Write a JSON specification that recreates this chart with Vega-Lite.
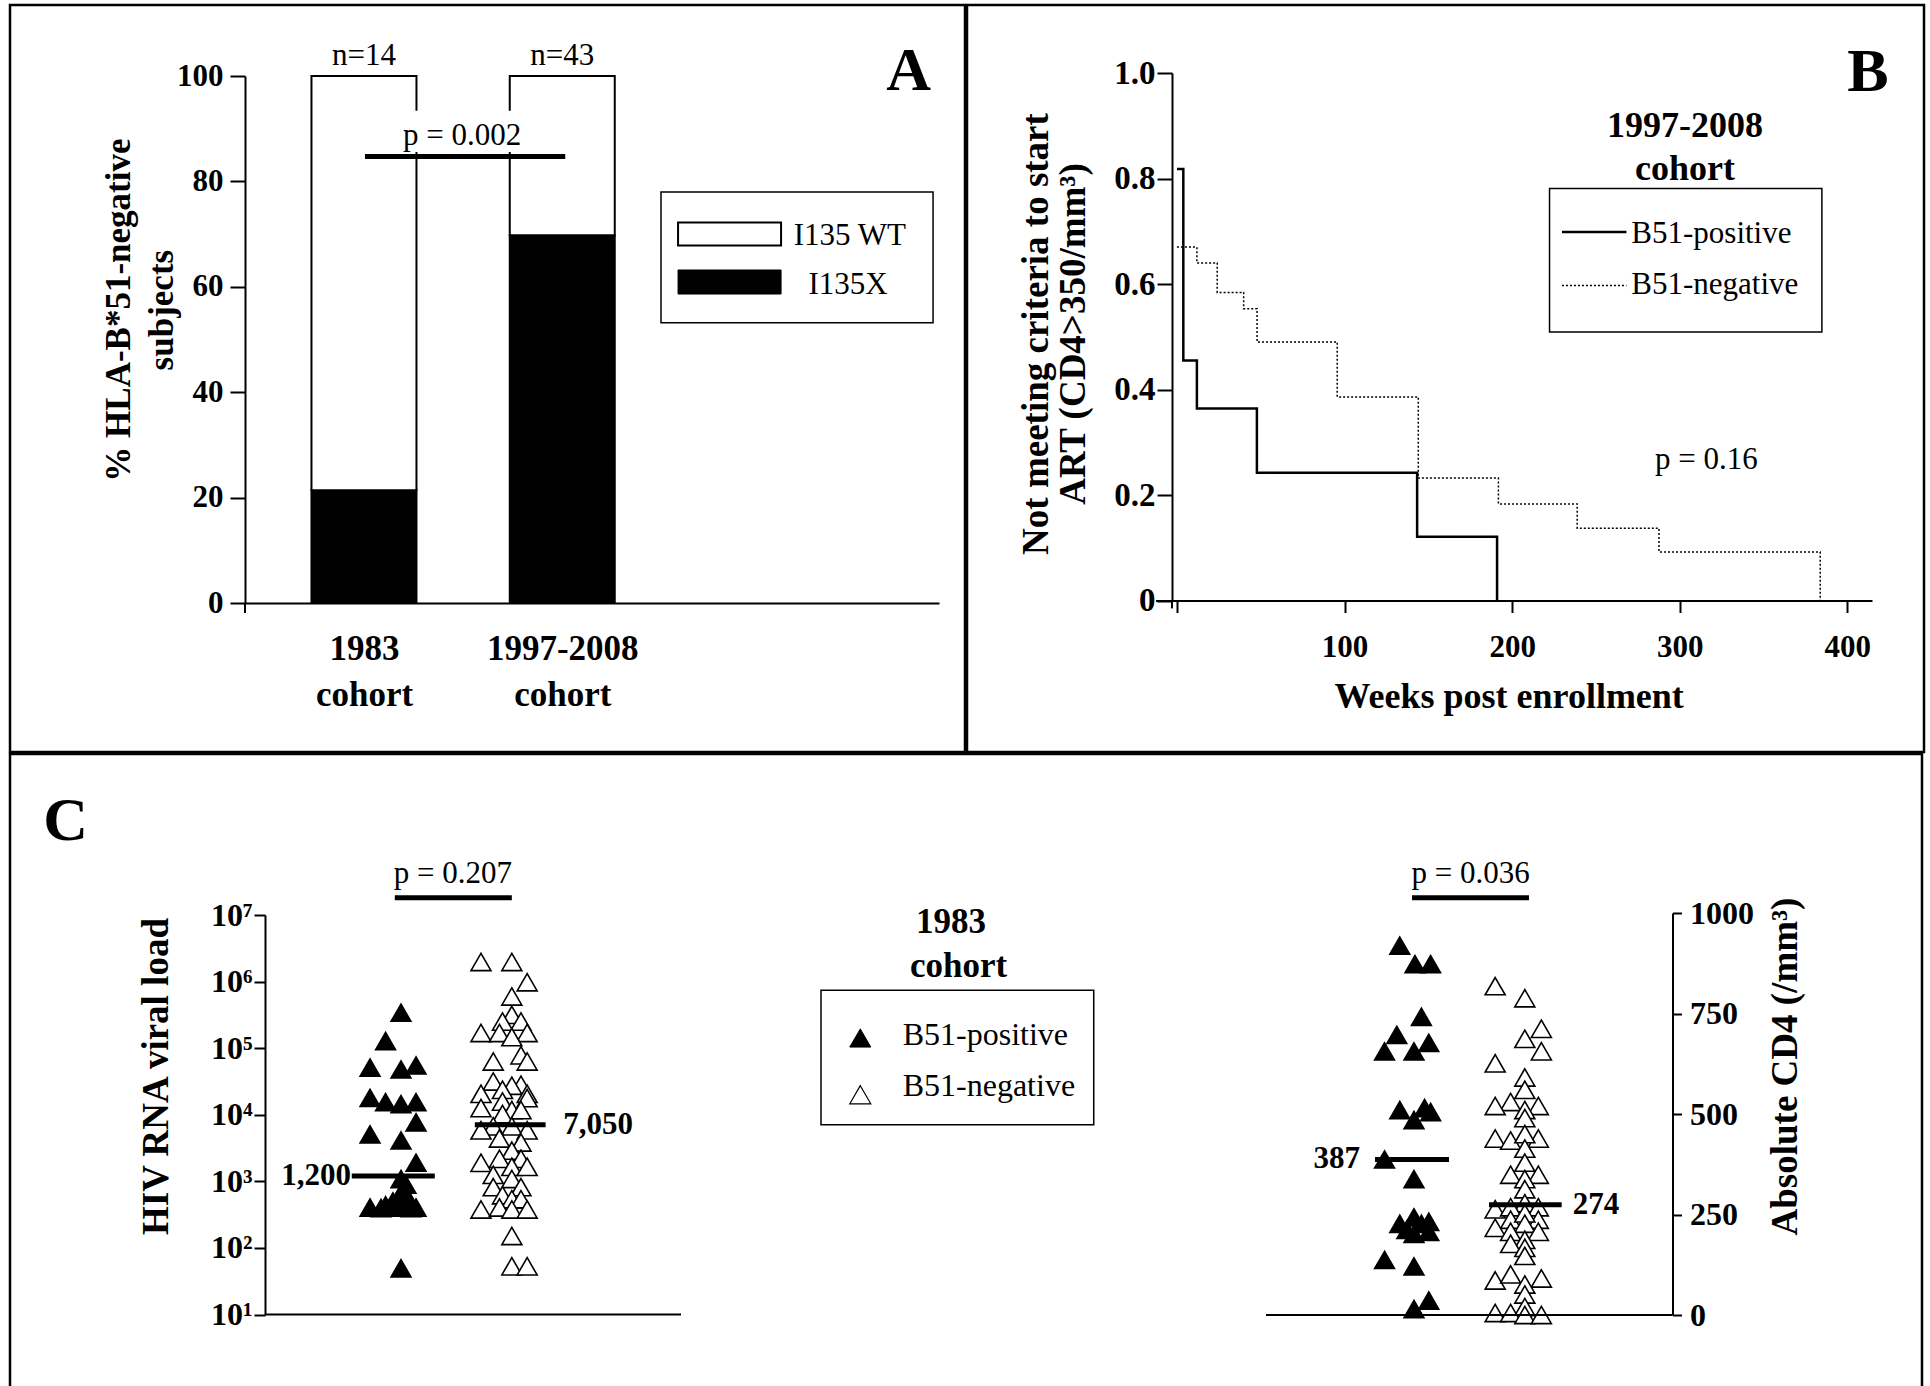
{
  "$schema": "https://vega.github.io/schema/vega-lite/v6.json",
  "background": "white",
  "padding": {"left": 8, "top": 3, "right": 0, "bottom": 0},
  "spacing": -2,
  "config": {
    "view": {"stroke": "black", "strokeWidth": 2.5},
    "font": "Liberation Serif",
    "mark": {"color": "black"},
    "axis": {"grid": false, "domainColor": "black", "tickColor": "black", "labelColor": "black", "titleColor": "black", "labelFont": "Liberation Serif", "titleFont": "Liberation Serif", "labelFontWeight": "bold", "titleFontWeight": "bold", "domainWidth": 2, "tickWidth": 2, "labelOverlap": false, "labelFlush": false},
    "text": {"font": "Liberation Serif", "color": "black"}
  },
  "datasets": {
    "mutation": [
      {"cohort": "1983", "pos": 1, "n": 14, "variant": "I135X", "pct": 21.4},
      {"cohort": "1983", "pos": 1, "n": 14, "variant": "I135 WT", "pct": 78.6},
      {"cohort": "1997-2008", "pos": 3, "n": 43, "variant": "I135X", "pct": 69.8},
      {"cohort": "1997-2008", "pos": 3, "n": 43, "variant": "I135 WT", "pct": 30.2}
    ],
    "km": [
      {"group": "B51-positive", "weeks": 0, "surv": 0.818},
      {"group": "B51-positive", "weeks": 3.8, "surv": 0.455},
      {"group": "B51-positive", "weeks": 11.9, "surv": 0.364},
      {"group": "B51-positive", "weeks": 47.7, "surv": 0.242},
      {"group": "B51-positive", "weeks": 143.3, "surv": 0.121},
      {"group": "B51-positive", "weeks": 191, "surv": 0},
      {"group": "B51-negative", "weeks": 0, "surv": 0.67},
      {"group": "B51-negative", "weeks": 11.9, "surv": 0.64},
      {"group": "B51-negative", "weeks": 24, "surv": 0.584},
      {"group": "B51-negative", "weeks": 39.8, "surv": 0.553},
      {"group": "B51-negative", "weeks": 47.8, "surv": 0.49},
      {"group": "B51-negative", "weeks": 95.6, "surv": 0.386},
      {"group": "B51-negative", "weeks": 144, "surv": 0.232},
      {"group": "B51-negative", "weeks": 191.8, "surv": 0.183},
      {"group": "B51-negative", "weeks": 238.8, "surv": 0.137},
      {"group": "B51-negative", "weeks": 287.6, "surv": 0.092},
      {"group": "B51-negative", "weeks": 383.8, "surv": 0}
    ],
    "viral": [
      {"group": "B51-positive", "xpos": 1.0, "viral_load": 341000},
      {"group": "B51-positive", "xpos": 0.848, "viral_load": 128000},
      {"group": "B51-positive", "xpos": 0.695, "viral_load": 51300},
      {"group": "B51-positive", "xpos": 1.0, "viral_load": 47900},
      {"group": "B51-positive", "xpos": 1.148, "viral_load": 55000},
      {"group": "B51-positive", "xpos": 0.695, "viral_load": 17950},
      {"group": "B51-positive", "xpos": 0.848, "viral_load": 15500},
      {"group": "B51-positive", "xpos": 1.0, "viral_load": 14450},
      {"group": "B51-positive", "xpos": 1.148, "viral_load": 15500},
      {"group": "B51-positive", "xpos": 1.148, "viral_load": 7710},
      {"group": "B51-positive", "xpos": 0.695, "viral_load": 5080},
      {"group": "B51-positive", "xpos": 1.0, "viral_load": 4110},
      {"group": "B51-positive", "xpos": 1.148, "viral_load": 1905},
      {"group": "B51-positive", "xpos": 1.0, "viral_load": 1084},
      {"group": "B51-positive", "xpos": 1.0, "viral_load": 661},
      {"group": "B51-positive", "xpos": 1.049, "viral_load": 891},
      {"group": "B51-positive", "xpos": 0.921, "viral_load": 501},
      {"group": "B51-positive", "xpos": 1.079, "viral_load": 525},
      {"group": "B51-positive", "xpos": 0.695, "viral_load": 405},
      {"group": "B51-positive", "xpos": 0.848, "viral_load": 437},
      {"group": "B51-positive", "xpos": 1.0, "viral_load": 405},
      {"group": "B51-positive", "xpos": 1.148, "viral_load": 405},
      {"group": "B51-positive", "xpos": 0.803, "viral_load": 398},
      {"group": "B51-positive", "xpos": 1.099, "viral_load": 398},
      {"group": "B51-positive", "xpos": 0.951, "viral_load": 417},
      {"group": "B51-positive", "xpos": 1.0, "viral_load": 49.5},
      {"group": "B51-negative", "xpos": 1.788, "viral_load": 1968000},
      {"group": "B51-negative", "xpos": 2.092, "viral_load": 1968000},
      {"group": "B51-negative", "xpos": 2.243, "viral_load": 977000},
      {"group": "B51-negative", "xpos": 2.092, "viral_load": 597000},
      {"group": "B51-negative", "xpos": 2.092, "viral_load": 316000},
      {"group": "B51-negative", "xpos": 2.0, "viral_load": 251000},
      {"group": "B51-negative", "xpos": 2.182, "viral_load": 251000},
      {"group": "B51-negative", "xpos": 1.788, "viral_load": 169000},
      {"group": "B51-negative", "xpos": 1.97, "viral_load": 169000},
      {"group": "B51-negative", "xpos": 2.243, "viral_load": 169000},
      {"group": "B51-negative", "xpos": 2.092, "viral_load": 146600},
      {"group": "B51-negative", "xpos": 2.182, "viral_load": 78200},
      {"group": "B51-negative", "xpos": 1.909, "viral_load": 63100},
      {"group": "B51-negative", "xpos": 2.243, "viral_load": 63100},
      {"group": "B51-negative", "xpos": 1.909, "viral_load": 31600},
      {"group": "B51-negative", "xpos": 2.182, "viral_load": 28200},
      {"group": "B51-negative", "xpos": 2.092, "viral_load": 27300},
      {"group": "B51-negative", "xpos": 2.0, "viral_load": 23700},
      {"group": "B51-negative", "xpos": 1.788, "viral_load": 20600},
      {"group": "B51-negative", "xpos": 2.243, "viral_load": 20600},
      {"group": "B51-negative", "xpos": 2.243, "viral_load": 17800},
      {"group": "B51-negative", "xpos": 2.0, "viral_load": 15800},
      {"group": "B51-negative", "xpos": 1.788, "viral_load": 12600},
      {"group": "B51-negative", "xpos": 2.092, "viral_load": 11750},
      {"group": "B51-negative", "xpos": 2.182, "viral_load": 11750},
      {"group": "B51-negative", "xpos": 2.0, "viral_load": 10230},
      {"group": "B51-negative", "xpos": 2.092, "viral_load": 6710},
      {"group": "B51-negative", "xpos": 1.909, "viral_load": 6710},
      {"group": "B51-negative", "xpos": 1.788, "viral_load": 5830},
      {"group": "B51-negative", "xpos": 2.243, "viral_load": 5830},
      {"group": "B51-negative", "xpos": 1.97, "viral_load": 4410},
      {"group": "B51-negative", "xpos": 2.182, "viral_load": 3840},
      {"group": "B51-negative", "xpos": 2.092, "viral_load": 2890},
      {"group": "B51-negative", "xpos": 1.97, "viral_load": 2180},
      {"group": "B51-negative", "xpos": 2.182, "viral_load": 2180},
      {"group": "B51-negative", "xpos": 1.788, "viral_load": 1900},
      {"group": "B51-negative", "xpos": 2.092, "viral_load": 1650},
      {"group": "B51-negative", "xpos": 2.243, "viral_load": 1650},
      {"group": "B51-negative", "xpos": 1.909, "viral_load": 1250},
      {"group": "B51-negative", "xpos": 2.092, "viral_load": 1084},
      {"group": "B51-negative", "xpos": 1.909, "viral_load": 818},
      {"group": "B51-negative", "xpos": 2.182, "viral_load": 818},
      {"group": "B51-negative", "xpos": 2.0, "viral_load": 618},
      {"group": "B51-negative", "xpos": 2.092, "viral_load": 538},
      {"group": "B51-negative", "xpos": 2.182, "viral_load": 538},
      {"group": "B51-negative", "xpos": 1.788, "viral_load": 378},
      {"group": "B51-negative", "xpos": 1.97, "viral_load": 405},
      {"group": "B51-negative", "xpos": 2.092, "viral_load": 378},
      {"group": "B51-negative", "xpos": 2.243, "viral_load": 378},
      {"group": "B51-negative", "xpos": 2.092, "viral_load": 151},
      {"group": "B51-negative", "xpos": 2.092, "viral_load": 53},
      {"group": "B51-negative", "xpos": 2.243, "viral_load": 53}
    ],
    "cd4": [
      {"group": "B51-positive", "xpos": 10.84, "cd4": 919},
      {"group": "B51-positive", "xpos": 10.99, "cd4": 873},
      {"group": "B51-positive", "xpos": 11.144, "cd4": 873},
      {"group": "B51-positive", "xpos": 11.053, "cd4": 742},
      {"group": "B51-positive", "xpos": 10.811, "cd4": 697},
      {"group": "B51-positive", "xpos": 10.69, "cd4": 656},
      {"group": "B51-positive", "xpos": 10.98, "cd4": 656},
      {"group": "B51-positive", "xpos": 11.126, "cd4": 677},
      {"group": "B51-positive", "xpos": 10.84, "cd4": 510},
      {"group": "B51-positive", "xpos": 11.084, "cd4": 515},
      {"group": "B51-positive", "xpos": 11.144, "cd4": 505},
      {"group": "B51-positive", "xpos": 10.98, "cd4": 485},
      {"group": "B51-positive", "xpos": 10.69, "cd4": 387},
      {"group": "B51-positive", "xpos": 10.98, "cd4": 338},
      {"group": "B51-positive", "xpos": 10.84, "cd4": 227},
      {"group": "B51-positive", "xpos": 10.98, "cd4": 243},
      {"group": "B51-positive", "xpos": 11.053, "cd4": 227},
      {"group": "B51-positive", "xpos": 11.126, "cd4": 207},
      {"group": "B51-positive", "xpos": 10.98, "cd4": 202},
      {"group": "B51-positive", "xpos": 10.91, "cd4": 212},
      {"group": "B51-positive", "xpos": 11.126, "cd4": 232},
      {"group": "B51-positive", "xpos": 10.69, "cd4": 137},
      {"group": "B51-positive", "xpos": 10.98, "cd4": 121},
      {"group": "B51-positive", "xpos": 11.126, "cd4": 36},
      {"group": "B51-positive", "xpos": 10.98, "cd4": 15},
      {"group": "B51-negative", "xpos": 11.78, "cd4": 818},
      {"group": "B51-negative", "xpos": 12.072, "cd4": 788},
      {"group": "B51-negative", "xpos": 12.235, "cd4": 712},
      {"group": "B51-negative", "xpos": 12.072, "cd4": 687},
      {"group": "B51-negative", "xpos": 12.235, "cd4": 656},
      {"group": "B51-negative", "xpos": 11.78, "cd4": 626},
      {"group": "B51-negative", "xpos": 12.072, "cd4": 591},
      {"group": "B51-negative", "xpos": 12.072, "cd4": 560},
      {"group": "B51-negative", "xpos": 11.932, "cd4": 530},
      {"group": "B51-negative", "xpos": 12.205, "cd4": 520},
      {"group": "B51-negative", "xpos": 11.78, "cd4": 520},
      {"group": "B51-negative", "xpos": 12.072, "cd4": 510},
      {"group": "B51-negative", "xpos": 12.072, "cd4": 490},
      {"group": "B51-negative", "xpos": 11.78, "cd4": 439},
      {"group": "B51-negative", "xpos": 11.932, "cd4": 434},
      {"group": "B51-negative", "xpos": 12.205, "cd4": 439},
      {"group": "B51-negative", "xpos": 12.072, "cd4": 450},
      {"group": "B51-negative", "xpos": 12.072, "cd4": 414},
      {"group": "B51-negative", "xpos": 12.072, "cd4": 379},
      {"group": "B51-negative", "xpos": 11.932, "cd4": 349},
      {"group": "B51-negative", "xpos": 12.205, "cd4": 349},
      {"group": "B51-negative", "xpos": 12.072, "cd4": 338},
      {"group": "B51-negative", "xpos": 12.072, "cd4": 313},
      {"group": "B51-negative", "xpos": 12.072, "cd4": 278},
      {"group": "B51-negative", "xpos": 11.78, "cd4": 263},
      {"group": "B51-negative", "xpos": 11.932, "cd4": 268},
      {"group": "B51-negative", "xpos": 12.205, "cd4": 268},
      {"group": "B51-negative", "xpos": 11.932, "cd4": 237},
      {"group": "B51-negative", "xpos": 12.205, "cd4": 237},
      {"group": "B51-negative", "xpos": 12.072, "cd4": 253},
      {"group": "B51-negative", "xpos": 12.072, "cd4": 227},
      {"group": "B51-negative", "xpos": 11.78, "cd4": 217},
      {"group": "B51-negative", "xpos": 11.932, "cd4": 207},
      {"group": "B51-negative", "xpos": 12.205, "cd4": 207},
      {"group": "B51-negative", "xpos": 12.072, "cd4": 187},
      {"group": "B51-negative", "xpos": 11.932, "cd4": 177},
      {"group": "B51-negative", "xpos": 12.072, "cd4": 167},
      {"group": "B51-negative", "xpos": 12.072, "cd4": 147},
      {"group": "B51-negative", "xpos": 11.78, "cd4": 86},
      {"group": "B51-negative", "xpos": 11.932, "cd4": 101},
      {"group": "B51-negative", "xpos": 12.235, "cd4": 91},
      {"group": "B51-negative", "xpos": 12.072, "cd4": 76},
      {"group": "B51-negative", "xpos": 12.072, "cd4": 51},
      {"group": "B51-negative", "xpos": 12.072, "cd4": 20},
      {"group": "B51-negative", "xpos": 11.78, "cd4": 5},
      {"group": "B51-negative", "xpos": 11.932, "cd4": 5},
      {"group": "B51-negative", "xpos": 12.072, "cd4": 0},
      {"group": "B51-negative", "xpos": 12.235, "cd4": 0}
    ]
  },
  "vconcat": [
    {
      "spacing": -2,
      "hconcat": [
        {
          "width": 955,
          "height": 747,
          "data": {"name": "mutation"},
          "layer": [
            {
              "mark": {"type": "bar", "width": 105, "stroke": "black", "strokeWidth": 2},
              "encoding": {
                "x": {"field": "pos", "type": "quantitative", "scale": {"domain": [-0.2, 6.8], "range": [235, 929], "padding": 0, "nice": false, "zero": false},
                  "axis": {"orient": "bottom", "offset": -149, "values": [1, 3], "tickSize": 0, "labelExpr": "datum.value == 1 ? ['1983', 'cohort'] : ['1997-2008', 'cohort']", "labelFontSize": 35, "labelPadding": 28, "labelLineHeight": 46, "title": null}},
                "y": {"field": "pct", "type": "quantitative", "stack": "zero", "scale": {"domain": [0, 100], "range": [598, 71], "nice": false},
                  "axis": {"orient": "left", "offset": -235, "values": [0, 20, 40, 60, 80, 100], "tickSize": 15, "labelFontSize": 31, "labelPadding": 7, "title": ["% HLA-B*51-negative", "subjects"], "titleFontSize": 35, "titleAngle": 270, "titleAlign": "center", "titleBaseline": "alphabetic", "titleX": -116, "titleY": 304.6, "titleLineHeight": 43}},
                "fill": {"field": "variant", "type": "nominal", "scale": {"domain": ["I135 WT", "I135X"], "range": ["white", "black"]}, "legend": null},
                "order": {"field": "variant", "sort": "descending"}
              }
            },
            {
              "transform": [{"filter": "datum.variant == 'I135X'"}, {"calculate": "'n=' + datum.n", "as": "nlabel"}],
              "mark": {"type": "text", "fontSize": 31, "baseline": "alphabetic", "align": "center"},
              "encoding": {
                "x": {"field": "pos", "type": "quantitative"},
                "y": {"datum": 102.0},
                "text": {"field": "nlabel"}
              }
            },
            {
              "data": {"values": [{}]},
              "mark": {"type": "rect", "fill": "white", "strokeWidth": 0},
              "encoding": {"x": {"datum": 1.404}, "x2": {"datum": 2.614}, "y": {"datum": 85.6}, "y2": {"datum": 93.4}}
            },
            {
              "data": {"values": [{}]},
              "mark": {"type": "rule", "strokeWidth": 2},
              "encoding": {"x": {"datum": -0.2}, "y": {"datum": 0}, "y2": {"datum": -1.9}}
            },
            {
              "data": {"values": [{}]},
              "mark": {"type": "rule", "strokeWidth": 5},
              "encoding": {"x": {"datum": 1.01}, "x2": {"datum": 3.03}, "y": {"datum": 84.73}}
            },
            {
              "data": {"values": [{}]},
              "mark": {"type": "text", "text": "p = 0.002", "fontSize": 31, "baseline": "alphabetic", "align": "center"},
              "encoding": {"x": {"datum": 1.99}, "y": {"datum": 87.0}}
            },
            {
              "data": {"values": [{}]},
              "mark": {"type": "text", "text": "A", "fontSize": 62, "fontWeight": "bold", "baseline": "alphabetic", "align": "center"},
              "encoding": {"x": {"datum": 6.495}, "y": {"datum": 97.3}}
            },
            {
              "data": {"values": [{}]},
              "mark": {"type": "rect", "fill": "white", "stroke": "black", "strokeWidth": 1.5},
              "encoding": {"x": {"datum": 3.996}, "x2": {"datum": 6.74}, "y": {"datum": 53.2}, "y2": {"datum": 78.0}}
            },
            {
              "data": {"values": [{}]},
              "mark": {"type": "rect", "fill": "white", "stroke": "black", "strokeWidth": 2},
              "encoding": {"x": {"datum": 4.168}, "x2": {"datum": 5.207}, "y": {"datum": 67.86}, "y2": {"datum": 72.2}}
            },
            {
              "data": {"values": [{}]},
              "mark": {"type": "rect", "fill": "black", "stroke": "black", "strokeWidth": 1},
              "encoding": {"x": {"datum": 4.168}, "x2": {"datum": 5.207}, "y": {"datum": 58.63}, "y2": {"datum": 63.19}}
            },
            {
              "data": {"values": [{}]},
              "mark": {"type": "text", "text": "I135 WT", "fontSize": 31, "baseline": "alphabetic", "align": "left"},
              "encoding": {"x": {"datum": 5.334}, "y": {"datum": 67.93}}
            },
            {
              "data": {"values": [{}]},
              "mark": {"type": "text", "text": "I135X", "fontSize": 31, "baseline": "alphabetic", "align": "left"},
              "encoding": {"x": {"datum": 5.483}, "y": {"datum": 58.69}}
            }
          ]
        },
        {
          "width": 957,
          "height": 747,
          "data": {"name": "km"},
          "layer": [
            {
              "mark": {"type": "line", "interpolate": "step-after", "color": "black"},
              "encoding": {
                "x": {"field": "weeks", "type": "quantitative", "scale": {"domain": [-12.8, 414.7], "range": [188.5, 905], "nice": false, "zero": false},
                  "axis": {"orient": "bottom", "offset": -151.5, "values": [0, 100, 200, 300, 400], "tickSize": 12, "labelPadding": 19.5, "labelFontSize": 31, "labelExpr": "datum.value == 0 ? '' : datum.label", "title": "Weeks post enrollment", "titleFontSize": 36, "titleAngle": 0, "titleAlign": "center", "titleBaseline": "alphabetic", "titleX": 541.7, "titleY": 107.2}},
                "y": {"field": "surv", "type": "quantitative", "scale": {"domain": [0, 1], "range": [595.5, 68], "nice": false},
                  "axis": {"orient": "left", "offset": -205, "values": [0, 0.2, 0.4, 0.6, 0.8, 1.0], "labelExpr": "datum.value == 0 ? '0' : format(datum.value, '.1f')", "tickSize": 15, "labelPadding": 2, "labelFontSize": 33, "title": ["Not meeting criteria to start", "ART (CD4>350/mm³)"], "titleFontSize": 37, "titleAngle": 270, "titleAlign": "center", "titleBaseline": "alphabetic", "titleX": -124.7, "titleY": 328.5, "titleLineHeight": 37}},
                "strokeDash": {"field": "group", "type": "nominal", "scale": {"domain": ["B51-positive", "B51-negative"], "range": [[1, 0], [2, 2]]}, "legend": null},
                "strokeWidth": {"field": "group", "type": "nominal", "scale": {"domain": ["B51-positive", "B51-negative"], "range": [2.5, 1.5]}, "legend": null}
              }
            },
            {
              "data": {"values": [{}]},
              "mark": {"type": "rule", "strokeWidth": 2},
              "encoding": {"x": {"datum": -2.98}, "y": {"datum": 0}, "y2": {"datum": -0.015}}
            },
            {
              "data": {"values": [{}]},
              "mark": {"type": "rect", "fill": "white", "stroke": "black", "strokeWidth": 1.5},
              "encoding": {"x": {"datum": 222.3}, "x2": {"datum": 384.8}, "y": {"datum": 0.509}, "y2": {"datum": 0.781}}
            },
            {
              "data": {"values": [{}]},
              "mark": {"type": "rule", "strokeWidth": 2.5},
              "encoding": {"x": {"datum": 229.7}, "x2": {"datum": 268.2}, "y": {"datum": 0.6986}}
            },
            {
              "data": {"values": [{}]},
              "mark": {"type": "rule", "strokeWidth": 1.5, "strokeDash": [2, 2]},
              "encoding": {"x": {"datum": 229.7}, "x2": {"datum": 268.2}, "y": {"datum": 0.597}}
            },
            {
              "data": {"values": [{}]},
              "mark": {"type": "text", "text": "B51-positive", "fontSize": 31, "baseline": "alphabetic", "align": "left"},
              "encoding": {"x": {"datum": 271.1}, "y": {"datum": 0.6785}}
            },
            {
              "data": {"values": [{}]},
              "mark": {"type": "text", "text": "B51-negative", "fontSize": 31, "baseline": "alphabetic", "align": "left"},
              "encoding": {"x": {"datum": 271.1}, "y": {"datum": 0.5816}}
            },
            {
              "data": {"values": [{}]},
              "mark": {"type": "text", "text": "1997-2008", "fontSize": 36, "fontWeight": "bold", "baseline": "alphabetic", "align": "center"},
              "encoding": {"x": {"datum": 303.1}, "y": {"datum": 0.878}}
            },
            {
              "data": {"values": [{}]},
              "mark": {"type": "text", "text": "cohort", "fontSize": 36, "fontWeight": "bold", "baseline": "alphabetic", "align": "center"},
              "encoding": {"x": {"datum": 303.1}, "y": {"datum": 0.7964}}
            },
            {
              "data": {"values": [{}]},
              "mark": {"type": "text", "text": "p = 0.16", "fontSize": 31, "baseline": "alphabetic", "align": "center"},
              "encoding": {"x": {"datum": 315.9}, "y": {"datum": 0.2502}}
            },
            {
              "data": {"values": [{}]},
              "mark": {"type": "text", "text": "B", "fontSize": 62, "fontWeight": "bold", "baseline": "alphabetic", "align": "center"},
              "encoding": {"x": {"datum": 412.3}, "y": {"datum": 0.9659}}
            }
          ]
        }
      ]
    },
    {
      "width": 1912,
      "height": 640,
      "resolve": {"scale": {"y": "independent"}},
      "layer": [
        {
          "data": {"name": "viral"},
          "layer": [
            {
              "transform": [{"filter": "datum.group == 'B51-positive'"}],
              "mark": {"type": "point", "shape": "triangle-up", "size": 400, "filled": true, "opacity": 1, "fill": "black", "stroke": "black", "strokeWidth": 1.5},
              "encoding": {
                "x": {"field": "xpos", "type": "quantitative", "scale": {"domain": [-2.852, 15.985], "nice": false, "zero": false}, "axis": null},
                "y": {"field": "viral_load", "type": "quantitative", "scale": {"type": "log", "domain": [10, 10000000], "range": [560.5, 161], "nice": false},
                  "axis": {"orient": "left", "offset": -255, "values": [10, 100, 1000, 10000, 100000, 1000000, 10000000], "labelExpr": "'10' + ['⁰','¹','²','³','⁴','⁵','⁶','⁷'][round(log(datum.value)/LN10)]", "tickSize": 11, "labelPadding": 2, "labelFontSize": 32, "title": "HIV RNA viral load", "titleFontSize": 37, "titleAngle": 270, "titleAlign": "center", "titleBaseline": "alphabetic", "titleX": -98, "titleY": 322}}
              }
            },
            {
              "transform": [{"filter": "datum.group == 'B51-negative'"}],
              "mark": {"type": "point", "shape": "triangle-up", "size": 400, "filled": true, "opacity": 1, "fill": "white", "stroke": "black", "strokeWidth": 1.6},
              "encoding": {
                "x": {"field": "xpos", "type": "quantitative", "axis": null},
                "y": {"field": "viral_load", "type": "quantitative"}
              }
            },
            {
              "data": {"values": [{}]},
              "mark": {"type": "rule", "strokeWidth": 5},
              "encoding": {"x": {"datum": 0.515, "axis": null}, "x2": {"datum": 1.333}, "y": {"datum": 1200}}
            },
            {
              "data": {"values": [{}]},
              "mark": {"type": "rule", "strokeWidth": 5},
              "encoding": {"x": {"datum": 1.727, "axis": null}, "x2": {"datum": 2.425}, "y": {"datum": 7050}}
            },
            {
              "data": {"values": [{}]},
              "mark": {"type": "text", "text": "1,200", "fontSize": 31, "fontWeight": "bold", "baseline": "middle", "align": "center"},
              "encoding": {"x": {"datum": 0.163, "axis": null}, "y": {"datum": 1200}}
            },
            {
              "data": {"values": [{}]},
              "mark": {"type": "text", "text": "7,050", "fontSize": 31, "fontWeight": "bold", "baseline": "middle", "align": "center"},
              "encoding": {"x": {"datum": 2.941, "axis": null}, "y": {"datum": 7050}}
            },
            {
              "data": {"values": [{}]},
              "mark": {"type": "rule", "strokeWidth": 2},
              "encoding": {"x": {"datum": -0.34, "axis": null}, "x2": {"datum": 3.759}, "y": {"datum": 10}}
            }
          ]
        },
        {
          "data": {"name": "cd4"},
          "layer": [
            {
              "transform": [{"filter": "datum.group == 'B51-positive'"}],
              "mark": {"type": "point", "shape": "triangle-up", "size": 400, "filled": true, "opacity": 1, "fill": "black", "stroke": "black", "strokeWidth": 1.5},
              "encoding": {
                "x": {"field": "xpos", "type": "quantitative", "axis": null},
                "y": {"field": "cd4", "type": "quantitative", "scale": {"domain": [0, 1000], "range": [561, 159], "nice": false, "zero": false},
                  "axis": {"orient": "right", "offset": -249.5, "values": [0, 250, 500, 750, 1000], "format": "d", "tickSize": 9, "labelPadding": 8, "labelFontSize": 32, "title": "Absolute CD4 (/mm³)", "titleFontSize": 37, "titleAngle": 270, "titleAlign": "center", "titleBaseline": "alphabetic", "titleX": 124, "titleY": 312}}
              }
            },
            {
              "transform": [{"filter": "datum.group == 'B51-negative'"}],
              "mark": {"type": "point", "shape": "triangle-up", "size": 400, "filled": true, "opacity": 1, "fill": "white", "stroke": "black", "strokeWidth": 1.6},
              "encoding": {
                "x": {"field": "xpos", "type": "quantitative", "axis": null},
                "y": {"field": "cd4", "type": "quantitative"}
              }
            },
            {
              "data": {"values": [{}]},
              "mark": {"type": "rule", "strokeWidth": 5},
              "encoding": {"x": {"datum": 10.596, "axis": null}, "x2": {"datum": 11.325}, "y": {"datum": 387}}
            },
            {
              "data": {"values": [{}]},
              "mark": {"type": "rule", "strokeWidth": 5},
              "encoding": {"x": {"datum": 11.719, "axis": null}, "x2": {"datum": 12.435}, "y": {"datum": 274}}
            },
            {
              "data": {"values": [{}]},
              "mark": {"type": "text", "text": "387", "fontSize": 31, "fontWeight": "bold", "baseline": "middle", "align": "center"},
              "encoding": {"x": {"datum": 10.22, "axis": null}, "y": {"datum": 387}}
            },
            {
              "data": {"values": [{}]},
              "mark": {"type": "text", "text": "274", "fontSize": 31, "fontWeight": "bold", "baseline": "middle", "align": "center"},
              "encoding": {"x": {"datum": 12.773, "axis": null}, "y": {"datum": 274}}
            },
            {
              "data": {"values": [{}]},
              "mark": {"type": "rule", "strokeWidth": 2},
              "encoding": {"x": {"datum": 9.522, "axis": null}, "x2": {"datum": 13.527}, "y": {"datum": 0}}
            },
            {
              "data": {"values": [{}]},
              "mark": {"type": "rule", "strokeWidth": 5},
              "encoding": {"x": {"datum": 0.939, "axis": null}, "x2": {"datum": 2.092}, "y": {"datum": 1037.8}}
            },
            {
              "data": {"values": [{}]},
              "mark": {"type": "rule", "strokeWidth": 5},
              "encoding": {"x": {"datum": 10.961, "axis": null}, "x2": {"datum": 12.113}, "y": {"datum": 1037.8}}
            },
            {
              "data": {"values": [{}]},
              "mark": {"type": "text", "text": "p = 0.207", "fontSize": 31, "baseline": "alphabetic", "align": "center"},
              "encoding": {"x": {"datum": 1.512, "axis": null}, "y": {"datum": 1075}}
            },
            {
              "data": {"values": [{}]},
              "mark": {"type": "text", "text": "p = 0.036", "fontSize": 31, "baseline": "alphabetic", "align": "center"},
              "encoding": {"x": {"datum": 11.538, "axis": null}, "y": {"datum": 1075}}
            },
            {
              "data": {"values": [{}]},
              "mark": {"type": "text", "text": "C", "fontSize": 62, "fontWeight": "bold", "baseline": "alphabetic", "align": "center"},
              "encoding": {"x": {"datum": -2.304, "axis": null}, "y": {"datum": 1181.6}}
            },
            {
              "data": {"values": [{}]},
              "mark": {"type": "rect", "fill": "white", "stroke": "black", "strokeWidth": 1.5},
              "encoding": {"x": {"datum": 5.138, "axis": null}, "x2": {"datum": 7.825}, "y": {"datum": 473.4}, "y2": {"datum": 807.7}}
            },
            {
              "data": {"values": [{}]},
              "mark": {"type": "point", "shape": "triangle-up", "size": 441, "filled": true, "opacity": 1, "fill": "black", "stroke": "black", "strokeWidth": 1},
              "encoding": {"x": {"datum": 5.525, "axis": null}, "y": {"datum": 689.1}}
            },
            {
              "data": {"values": [{}]},
              "mark": {"type": "point", "shape": "triangle-up", "size": 441, "filled": true, "opacity": 1, "fill": "white", "stroke": "black", "strokeWidth": 1.2},
              "encoding": {"x": {"datum": 5.525, "axis": null}, "y": {"datum": 548}}
            },
            {
              "data": {"values": [{}]},
              "mark": {"type": "text", "text": "B51-positive", "fontSize": 32, "baseline": "alphabetic", "align": "left"},
              "encoding": {"x": {"datum": 5.943, "axis": null}, "y": {"datum": 672.4}}
            },
            {
              "data": {"values": [{}]},
              "mark": {"type": "text", "text": "B51-negative", "fontSize": 32, "baseline": "alphabetic", "align": "left"},
              "encoding": {"x": {"datum": 5.943, "axis": null}, "y": {"datum": 544.0}}
            },
            {
              "data": {"values": [{}]},
              "mark": {"type": "text", "text": "1983", "fontSize": 35, "fontWeight": "bold", "baseline": "alphabetic", "align": "center"},
              "encoding": {"x": {"datum": 6.419, "axis": null}, "y": {"datum": 950.2}}
            },
            {
              "data": {"values": [{}]},
              "mark": {"type": "text", "text": "cohort", "fontSize": 35, "fontWeight": "bold", "baseline": "alphabetic", "align": "center"},
              "encoding": {"x": {"datum": 6.493, "axis": null}, "y": {"datum": 840}}
            }
          ]
        }
      ]
    }
  ]
}
